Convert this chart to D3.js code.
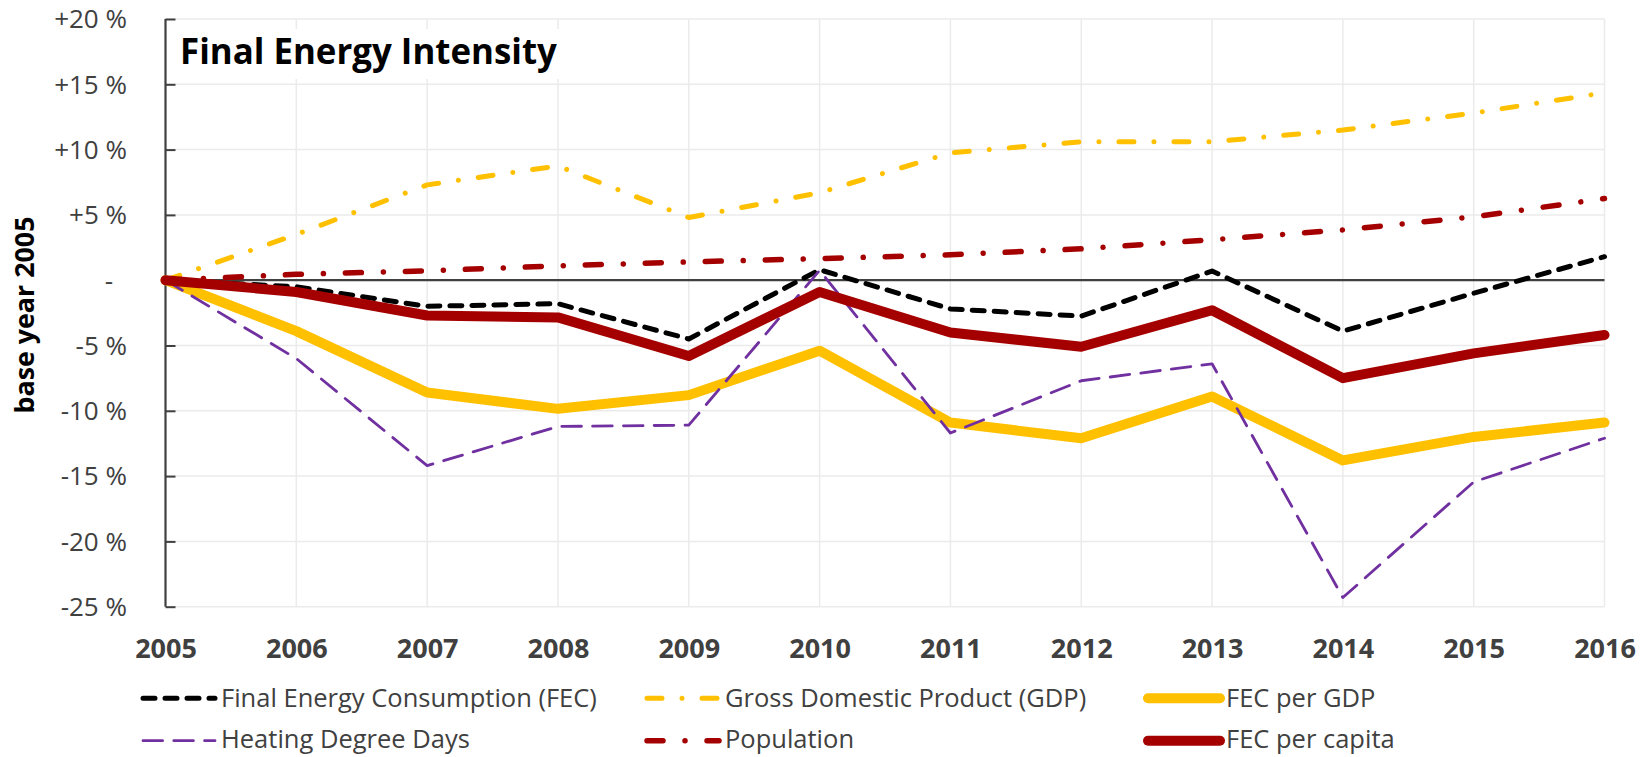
<!DOCTYPE html>
<html><head><meta charset="utf-8">
<script src="https://cdn.jsdelivr.net/npm/d3@7"></script>
<style>
body{margin:0;background:#fff;}
svg{display:block;font-family:"Open Sans",Lato,sans-serif;}
</style>
</head><body>
<svg id="c" width="1643" height="757"></svg>
<script>
// ---- data ----
const years = [2005,2006,2007,2008,2009,2010,2011,2012,2013,2014,2015,2016];
const fec          = [0,-0.5,-2.0,-1.8,-4.5, 0.8,-2.2,-2.75, 0.7,-3.9,-1.0, 1.8];
const gdp          = [0, 3.5, 7.3, 8.75, 4.8, 6.7, 9.75,10.6,10.6,11.5,12.8,14.35];
const fecPerGdp    = [0,-3.9,-8.6,-9.85,-8.8,-5.4,-10.9,-12.1,-8.9,-13.8,-12.0,-10.9];
const hdd          = [0,-6.0,-14.2,-11.2,-11.1,0.75,-11.7,-7.7,-6.4,-24.3,-15.45,-12.1];
const population   = [0, 0.45,0.72,1.1,1.4,1.65,1.95,2.4,3.1,3.85,4.85,6.25];
const fecPerCapita = [0,-0.9,-2.7,-2.85,-5.8,-0.9,-4.0,-5.1,-2.3,-7.5,-5.6,-4.2];
const seriesNames = ["Final Energy Consumption (FEC)","Gross Domestic Product (GDP)","FEC per GDP",
                     "Heating Degree Days","Population","FEC per capita"];
const yTicks = [20,15,10,5,0,-5,-10,-15,-20,-25];
const yTickLabels = ["+20 %","+15 %","+10 %","+5 %","-","-5 %","-10 %","-15 %","-20 %","-25 %"];
const titleText = "Final Energy Intensity";
const yTitle = "base year 2005";

// ---- styles ----
const styles = [
  {color:"#000000", w:5,   dash:"12,10"},
  {color:"#FFC000", w:5,   dash:"15,20,0.01,20"},
  {color:"#FFC000", w:10,  dash:null},
  {color:"#7030A0", w:2.8, dash:"19.6,11.2"},
  {color:"#A50000", w:5.5, dash:"16,22,0.01,22"},
  {color:"#A50000", w:10,  dash:null}
];
const allSeries = [fec,gdp,fecPerGdp,hdd,population,fecPerCapita];

const svg = d3.select("#c");
const L=165.5, R=1604.5, T=19, B=606.7;
const x = d3.scaleLinear().domain([2005,2016]).range([L,R]);
const y = d3.scaleLinear().domain([-25,20]).range([B,T]);

function fit(sel, target){
  const n = sel.node(); const fs = parseFloat(sel.attr("font-size"));
  const w = n.getComputedTextLength();
  if (w>0) sel.attr("font-size", fs*target/w);
}

// gridlines
svg.append("g").selectAll("line").data(yTicks).join("line")
  .attr("x1",L).attr("x2",R).attr("y1",d=>y(d)).attr("y2",d=>y(d))
  .attr("stroke","#ebebeb").attr("stroke-width",1.5);
svg.append("g").selectAll("line").data(years.slice(1)).join("line")
  .attr("x1",d=>x(d)).attr("x2",d=>x(d)).attr("y1",T).attr("y2",B)
  .attr("stroke","#ebebeb").attr("stroke-width",1.5);

// title box
svg.append("rect").attr("x",L+4).attr("y",29).attr("width",392).attr("height",50).attr("fill","#fff");
const tt = svg.append("text").attr("x",180).attr("y",64).text(titleText)
  .attr("font-weight","bold").attr("font-size",34).attr("fill","#000");
fit(tt, 377);

// zero line
svg.append("line").attr("x1",L).attr("x2",R).attr("y1",y(0)).attr("y2",y(0))
  .attr("stroke","#404040").attr("stroke-width",2.2);

// y axis
const yAxis = d3.axisRight(y).tickValues(yTicks).tickSize(10).tickFormat("");
const ga = svg.append("g").attr("transform",`translate(${L},0)`).call(yAxis);
ga.select(".domain").attr("stroke","#404040").attr("stroke-width",2.2).attr("d",`M0,${T}V${B}`);
ga.selectAll(".tick line").attr("stroke","#404040").attr("stroke-width",2);

// y tick labels
svg.append("g").selectAll("text").data(yTicks).join("text")
  .attr("x",(d,i)=> yTickLabels[i]==="-" ? 109 : 127)
  .attr("text-anchor",(d,i)=> yTickLabels[i]==="-" ? "middle" : "end")
  .attr("y",d=>y(d)).attr("dy","0.36em")
  .attr("font-size",26).attr("fill","#404040")
  .text((d,i)=>yTickLabels[i]);

// x labels
const xAxis = d3.axisBottom(x).tickValues(years).tickFormat(d3.format("d")).tickSize(0);
const gx = svg.append("g").attr("transform",`translate(0,${B})`).call(xAxis);
gx.select(".domain").remove();
gx.selectAll("text").attr("font-size",27).attr("font-weight","bold").attr("fill","#404040")
  .attr("font-family","'Open Sans',Lato,sans-serif").attr("dy",null).attr("y",51.5);

// y title
const yt = svg.append("text").attr("transform","translate(34,315) rotate(-90)")
  .attr("text-anchor","middle").attr("font-size",25).attr("font-weight","bold").attr("fill","#000")
  .text(yTitle);
fit(yt, 197);

// series
const line = d3.line().x((d,i)=>x(years[i])).y(d=>y(d));
allSeries.forEach((s,k)=>{
  const st = styles[k];
  svg.append("path").attr("d",line(s)).attr("fill","none")
    .attr("stroke",st.color).attr("stroke-width",st.w)
    .attr("stroke-linecap","round").attr("stroke-linejoin","round")
    .attr("stroke-dasharray",st.dash);
});

// legend
const legX = [143,647,1148];
const legY = [698.3,740.7];
const legBase = [706.5,747.5];
const legTexts = [];
seriesNames.forEach((name,k)=>{
  const col = k%3, row = Math.floor(k/3);
  const st = styles[k];
  const g = svg.append("g");
  g.append("line").attr("x1",legX[col]).attr("x2",legX[col]+72)
    .attr("y1",legY[row]).attr("y2",legY[row])
    .attr("stroke",st.color).attr("stroke-width",st.w)
    .attr("stroke-linecap","round").attr("stroke-dasharray",st.dash);
  legTexts.push(g.append("text").attr("x",legX[col]+78).attr("y",legBase[row])
    .attr("font-size",24).attr("fill","#404040").text(name));
});
fit(legTexts[0], 405);
const legFs = Math.min(25.5, parseFloat(legTexts[0].attr("font-size")));
legTexts.forEach(t=>t.attr("font-size",legFs));
</script>
</body></html>
